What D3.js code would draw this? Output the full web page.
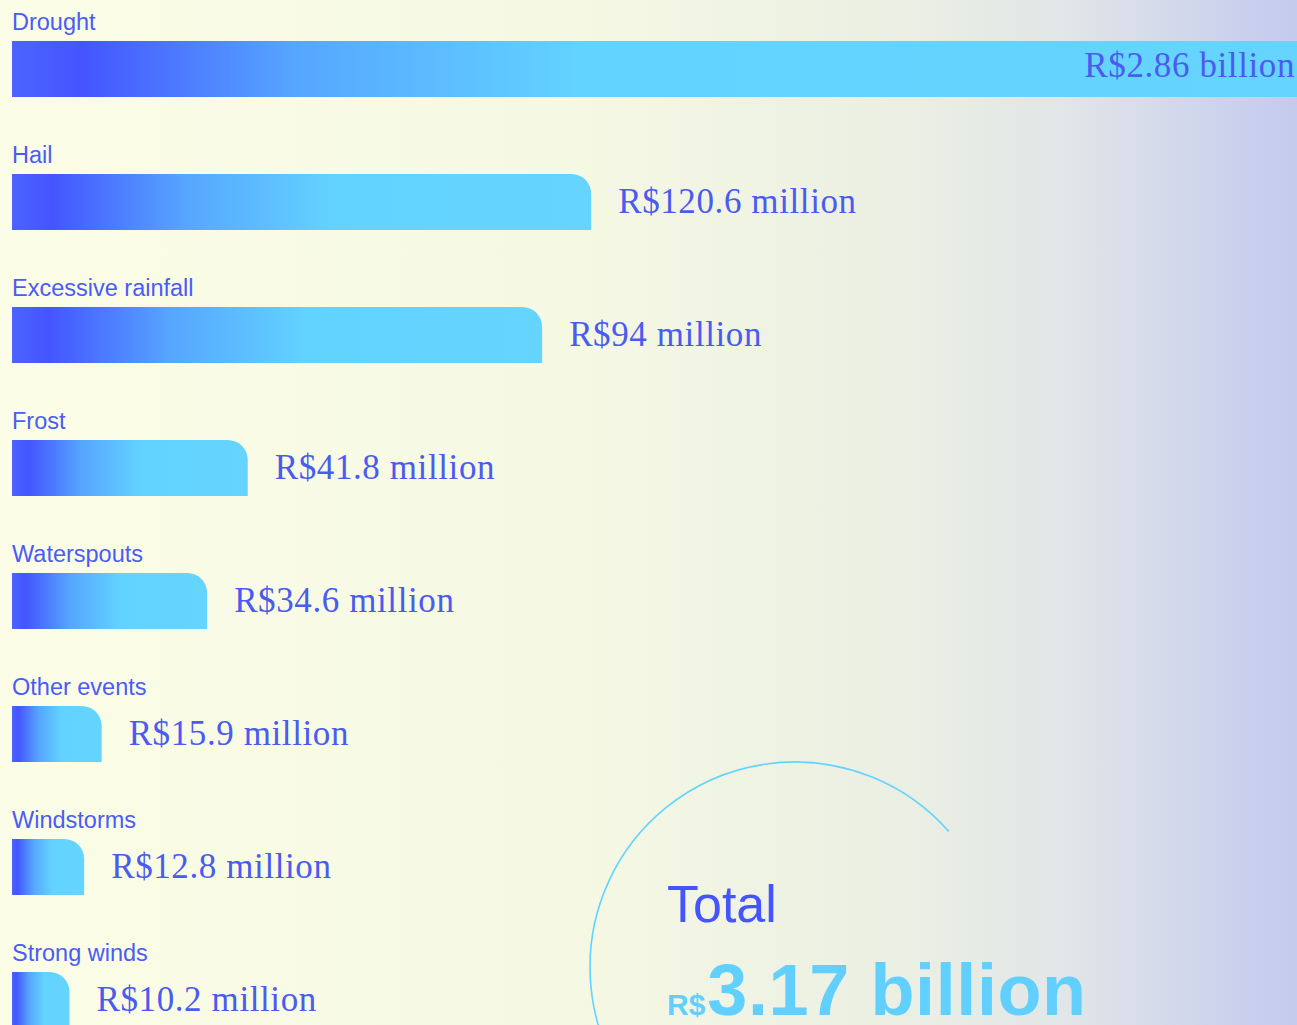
<!DOCTYPE html>
<html>
<head>
<meta charset="utf-8">
<script src="https://cdn.jsdelivr.net/npm/d3@7"></script>
<style>
html,body{margin:0;padding:0;overflow:hidden;}
svg{display:block;}
</style>
</head>
<body>
<script>
// ---- data ----
const categories = ["Drought","Hail","Excessive rainfall","Frost","Waterspouts","Other events","Windstorms","Strong winds"];
// drawn bar lengths, in R$ million
const barValues = [2860, 102.7, 94, 41.8, 34.6, 15.9, 12.8, 10.2];
const valueLabels = ["R$2.86 billion","R$120.6 million","R$94 million","R$41.8 million","R$34.6 million","R$15.9 million","R$12.8 million","R$10.2 million"];
const totalTitle = "Total";
const totalCurrency = "R$";
const totalValue = "3.17 billion";

const W = 1297, H = 1025;
const svg = d3.select("body").append("svg").attr("width", W).attr("height", H);
const defs = svg.append("defs");

const bg = defs.append("linearGradient").attr("id","bg").attr("x1",0).attr("x2",1).attr("y1",0).attr("y2",0);
[[0,"#fbfde6"],[0.45,"#f5f8e3"],[0.7,"#ebefe3"],[0.82,"#e1e6e8"],[1,"#c3caee"]].forEach(s=>bg.append("stop").attr("offset",s[0]).attr("stop-color",s[1]));
svg.append("rect").attr("width",W).attr("height",H).attr("fill","url(#bg)");

const stopsBar = [[0,"#4c63ff"],[0.07,"#4455ff"],[0.3,"#56a6ff"],[0.55,"#62d2ff"],[1,"#65d5ff"]];
const bgr = defs.append("linearGradient").attr("id","barg").attr("x1",0).attr("x2",1).attr("y1",0).attr("y2",0);
stopsBar.forEach(s=>bgr.append("stop").attr("offset",s[0]).attr("stop-color",s[1]));
const bgd = defs.append("linearGradient").attr("id","bargD").attr("gradientUnits","userSpaceOnUse").attr("x1",12).attr("x2",1297).attr("y1",0).attr("y2",0);
[[0,"#4c63ff"],[0.055,"#4455ff"],[0.22,"#56a6ff"],[0.44,"#62d2ff"],[1,"#65d5ff"]].forEach(s=>bgd.append("stop").attr("offset",s[0]).attr("stop-color",s[1]));

const x = d3.scaleLinear().domain([0,100]).range([12,576]);
const y = d3.scaleBand().domain(categories).range([41, 41+133*8]).padding(0);
const bh = 56;
const r = 20;

function barPath(x0, x1, y0, h){
  const w = x1-x0;
  const rr = Math.min(r, w/2);
  return `M${x0},${y0}H${x1-rr}A${rr},${rr} 0 0 1 ${x1},${y0+rr}V${y0+h}H${x0}Z`;
}

const g = svg.append("g");
const rows = g.selectAll("g.row").data(categories).join("g").attr("class","row");

rows.append("path")
  .attr("d",(d,i)=>barPath(x(0), x(barValues[i]), y(d), bh))
  .attr("fill",(d,i)=> i===0 ? "url(#bargD)" : "url(#barg)");

rows.append("text")
  .attr("x",12).attr("y",d=>y(d)-11)
  .attr("font-family","'Liberation Sans', Arial, sans-serif")
  .attr("font-size",23.5).attr("fill","#4a5cf5")
  .text(d=>d);

rows.append("text")
  .attr("x",(d,i)=> i===0 ? W-2 : x(barValues[i])+27)
  .attr("text-anchor",(d,i)=> i===0 ? "end" : "start")
  .attr("y",(d,i)=>y(d)+bh/2 + (i===0?8:11))
  .attr("font-family","'Liberation Serif', 'Times New Roman', serif")
  .attr("font-size",35).attr("letter-spacing",0.6).attr("fill","#4a5cf0")
  .text((d,i)=>valueLabels[i]);

// total circle
svg.append("path").attr("transform","translate(795,967)")
  .attr("d", d3.arc()({innerRadius:205, outerRadius:205, startAngle:-Math.PI, endAngle:48.6*Math.PI/180}))
  .attr("fill","none").attr("stroke","#62d4ff").attr("stroke-width",1.6);

svg.append("text").attr("x",667).attr("y",922)
  .attr("font-family","'Liberation Sans', Arial, sans-serif")
  .attr("font-size",52).attr("fill","#4455ff").text(totalTitle);

const tv = svg.append("text").attr("x",667).attr("y",1015)
  .attr("font-family","'Liberation Sans', Arial, sans-serif")
  .attr("font-weight","bold").attr("fill","#62d0ff");
tv.append("tspan").attr("font-size",30).text(totalCurrency);
tv.append("tspan").attr("font-size",72).attr("dx",2).attr("letter-spacing",0.6).text(totalValue);
</script>
</body>
</html>
